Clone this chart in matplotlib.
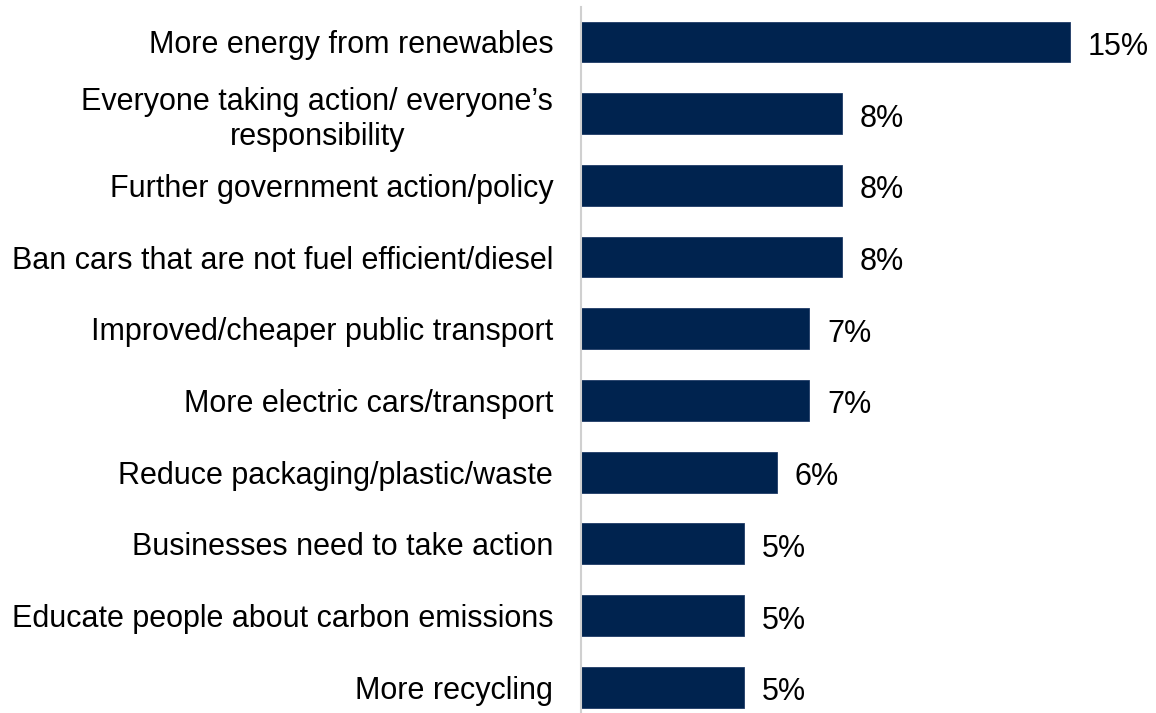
import matplotlib
matplotlib.use("Agg")
import matplotlib.pyplot as plt

categories = [
    "More energy from renewables",
    "Everyone taking action/ everyone\u2019s\nresponsibility",
    "Further government action/policy",
    "Ban cars that are not fuel efficient/diesel",
    "Improved/cheaper public transport",
    "More electric cars/transport",
    "Reduce packaging/plastic/waste",
    "Businesses need to take action",
    "Educate people about carbon emissions",
    "More recycling",
]
values = [15, 8, 8, 8, 7, 7, 6, 5, 5, 5]
value_labels = ["15%", "8%", "8%", "8%", "7%", "7%", "6%", "5%", "5%", "5%"]

plt.rcParams['font.family'] = ['Liberation Sans', 'DejaVu Sans']

W, H = 1156, 713
fig = plt.figure(figsize=(W / 100, H / 100), dpi=100)
left = 581 / W
ax = fig.add_axes([left, 0, 1 - left, 1 - 7 / H])

color = "#00234F"
ypos = list(range(len(categories)))
ax.barh(ypos, values, height=0.57, color=color, edgecolor="#1f3a66", linewidth=0.6)

ax.set_xlim(0, (W - 581) / 32.6)
ax.set_ylim(9.36, -0.488)

for y, v, lab in zip(ypos, values, value_labels):
    ax.annotate(lab, xy=(v, y), xytext=(18, -13), textcoords="offset pixels",
                va="baseline", ha="left", fontsize=22, color="#000000")

ax.set_yticks(ypos)
ax.set_yticklabels(categories, fontsize=22, multialignment="center")
ax.tick_params(axis="y", length=0, pad=20)
ax.set_xticks([])

for s in ["top", "right", "bottom"]:
    ax.spines[s].set_visible(False)
ax.spines["left"].set_color("#d0d0d0")
ax.spines["left"].set_linewidth(1.5)

fig.savefig("out.png", dpi=100)
